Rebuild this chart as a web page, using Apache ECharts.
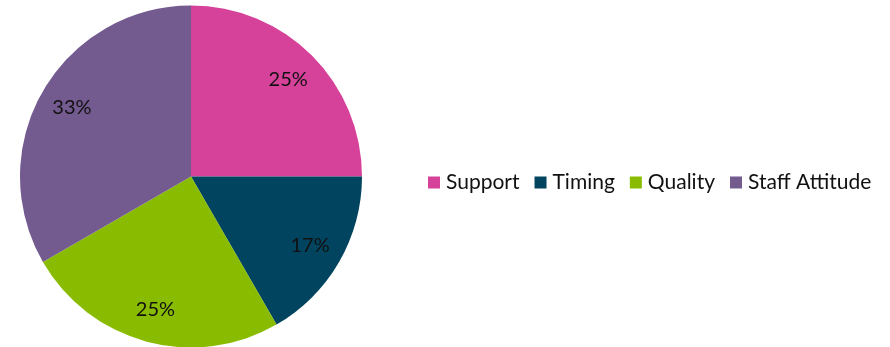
<!DOCTYPE html>
<html>
<head>
<meta charset="utf-8">
<script src="https://cdn.jsdelivr.net/npm/echarts@6/dist/echarts.min.js"></script>
<style>
  html, body { margin: 0; padding: 0; background: #fff; }
  #chart { width: 890px; height: 347px; }
</style>
</head>
<body>
<div id="chart"></div>
<script>
// slice data (share of responses)
const categories = ['Support', 'Timing', 'Quality', 'Staff Attitude']
const values = [3, 2, 3, 4]
const colors = ['#D6419A', '#00445F', '#89BC00', '#735A8F']

const fontFamily = 'Lato, "Open Sans", sans-serif'

const pieData = categories.map((name, i) => ({ name, value: values[i] }))

const chart = echarts.init(document.getElementById('chart'))

chart.setOption({
    animation: false,
    color: colors,
    legend: {
        orient: 'horizontal',
        left: 428,
        top: 172,
        itemWidth: 12,
        itemHeight: 12,
        itemGap: 15,
        icon: 'rect',
        data: categories,
        textStyle: { fontFamily, fontSize: 21, color: '#111', padding: [0, 0, 0, 1] },
        padding: 0
    },
    series: [
        {
            type: 'pie',
            center: [191, 176.5],
            radius: 171,
            startAngle: 90,
            clockwise: true,
            silent: true,
            label: { show: false },
            labelLine: { show: false },
            itemStyle: { borderWidth: 0 },
            data: pieData
        },
        {
            // transparent ring used only to place the percentage labels
            type: 'pie',
            center: [191, 176.5],
            radius: [98, 171],
            startAngle: 90,
            clockwise: true,
            silent: true,
            itemStyle: { color: 'transparent', borderWidth: 0 },
            label: {
                show: true,
                position: 'inside',
                formatter: p => Math.round(p.percent) + '%',
                fontFamily,
                fontSize: 20,
                color: '#111'
            },
            labelLine: { show: false },
            data: pieData
        }
    ]
})
</script>
</body>
</html>
